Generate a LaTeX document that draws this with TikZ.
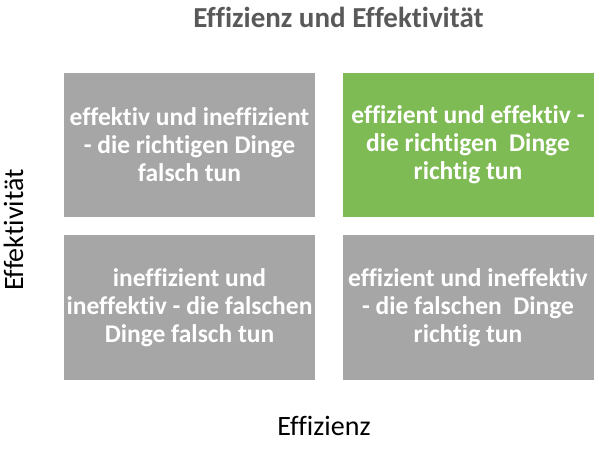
\documentclass[tikz,border=0pt]{standalone}
\usepackage{fontspec}
\setmainfont[Ligatures={NoCommon,NoRare}]{Carlito}
\usepackage{tikz}
\definecolor{boxgray}{HTML}{A6A6A6}
\definecolor{boxgreen}{HTML}{7FBB55}
\definecolor{titlegray}{HTML}{595959}
\tikzset{
  quad/.style={rectangle,fill=boxgray,minimum width=251bp,minimum height=144bp,
    inner sep=0pt,align=center,text=white,font=\fontsize{25.5bp}{28bp}\selectfont\bfseries},
  axislabel/.style={anchor=base,inner sep=0pt,font=\fontsize{28bp}{32bp}\selectfont}
}
\begin{document}
\begin{tikzpicture}[x=1bp,y=-1bp]
\useasboundingbox (0,0) rectangle (612,450);
\node[quad] (ei) at (189.5,145) {effektiv und ineffizient\\- die richtigen Dinge\\falsch tun};
\node[quad,fill=boxgreen] (ee) at (468,145) {effizient und effektiv -\\die richtigen\ \ Dinge\\richtig tun};
\node[quad] (ii) at (189.5,307.5) {ineffizient und\\ineffektiv - die falschen\\Dinge falsch tun};
\node[quad] (ie) at (468,307.5) {effizient und ineffektiv\\- die falschen\ \ Dinge\\richtig tun};
%\node[quad] (x) at (329,226) {};
\node[axislabel,text=titlegray,font=\fontsize{29bp}{32bp}\selectfont\bfseries] (title) at (338.5,28) {Effizienz und Effektivität};
\node[axislabel] (xlab) at (324,435) {Effizienz};
\node[axislabel,rotate=90] (ylab) at (23,230) {Effektivität};
\end{tikzpicture}
\end{document}
